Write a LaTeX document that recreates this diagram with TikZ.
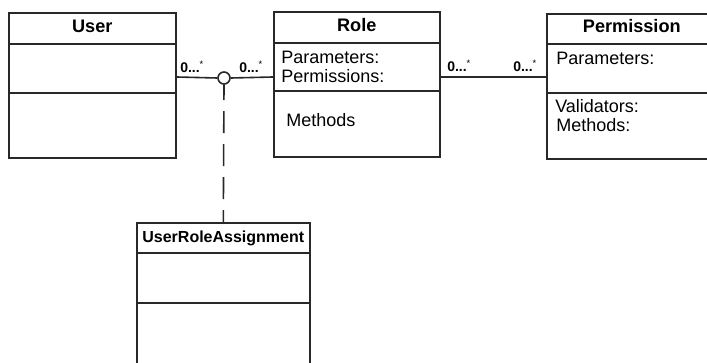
\documentclass[tikz,border=0pt]{standalone}
\usepackage{fontspec}
\setmainfont{Liberation Sans}
\usetikzlibrary{calc}
\definecolor{umlline}{RGB}{40, 40, 40}
\tikzset{
    classbox/.style={draw=umlline, line width=1.2pt, anchor=north west,
        inner sep=0pt, minimum width=#1*0.75pt, minimum height=145*0.75pt},
    classbox/.default=167,
    classname/.style={anchor=base, font=\fontsize{13.6}{16}\selectfont\bfseries},
    member/.style={anchor=base west, inner sep=0pt,
        font=\fontsize{13.5}{16}\selectfont},
    mult/.style={anchor=base west, inner sep=0pt,
        font=\fontsize{10.5}{12}\selectfont\bfseries},
    assocdot/.style={circle, draw=umlline, fill=white, line width=1.2pt,
        inner sep=0pt, minimum size=12*0.75pt},
}
\newcommand{\many}{0...\textsuperscript{\normalfont\scriptsize *}}

\begin{document}
\begin{tikzpicture}[x=0.75pt, y=0.75pt]
        \useasboundingbox (0, 0) rectangle (707, -363);
        % class boxes
        \node[classbox] (user) at (8, -12) {};
        \node[classbox=166] (role) at (273, -11) {};
        \node[classbox=170] (perm) at (546, -13) {};
        \node[classbox=173, minimum height=150*0.75pt] (ura) at (136, -222) {};
        \foreach \cls/\ya/\yb in {user/32/81, role/32/80, perm/31/80, ura/31/81} {
            \draw[umlline, line width=1.2pt] ($(\cls.north west)+(0,-\ya)$)
                -- ($(\cls.north east)+(0,-\ya)$);
            \draw[umlline, line width=1.2pt] ($(\cls.north west)+(0,-\yb)$)
                -- ($(\cls.north east)+(0,-\yb)$);
        }
        % names and members
        \node[classname] (usertitle) at ($(user.north)+(0,-21)$) {User};
        \node[classname] (roletitle) at ($(role.north)+(0,-21)$) {Role};
        \node[classname] (permtitle) at ($(perm.north)+(0,-20)$) {Permission};
        \node[classname, font=\fontsize{12}{14}\selectfont\bfseries]
            (uratitle) at ($(ura.north)+(0,-21)$) {UserRoleAssignment};
        \node[member] (roleparams) at (281, -64) {Parameters:};
        \node[member] (roleperms) at (281, -83) {Permissions:};
        \node[member] (rolemethods) at (286, -127) {Methods};
        \node[member] (permparams) at (556, -65) {Parameters:};
        \node[member] (permvalid) at (555, -113) {Validators:};
        \node[member] (permmethods) at (556, -132) {Methods:};
        % associations
        \node[assocdot] (link) at (224, -78) {};
        \draw[umlline, line width=1.2pt] (user.east |- 0, -77) -- (link.west)
            (link.east) -- (role.west |- 0, -77);
        \draw[umlline, line width=1.2pt] (role.east |- 0, -77)
            -- (perm.west |- 0, -77);
        \draw[umlline, line width=1.2pt, dash pattern=on 16.5pt off 8.25pt,
            dash phase=5pt] (link.south) -- (ura.north);
        \node[mult] (userend) at (180, -73) {\many};
        \node[mult] (roleleft) at (239, -73) {\many};
        \node[mult] (roleright) at (447, -72) {\many};
        \node[mult] (permend) at (513, -72) {\many};
    \end{tikzpicture}
\end{document}
